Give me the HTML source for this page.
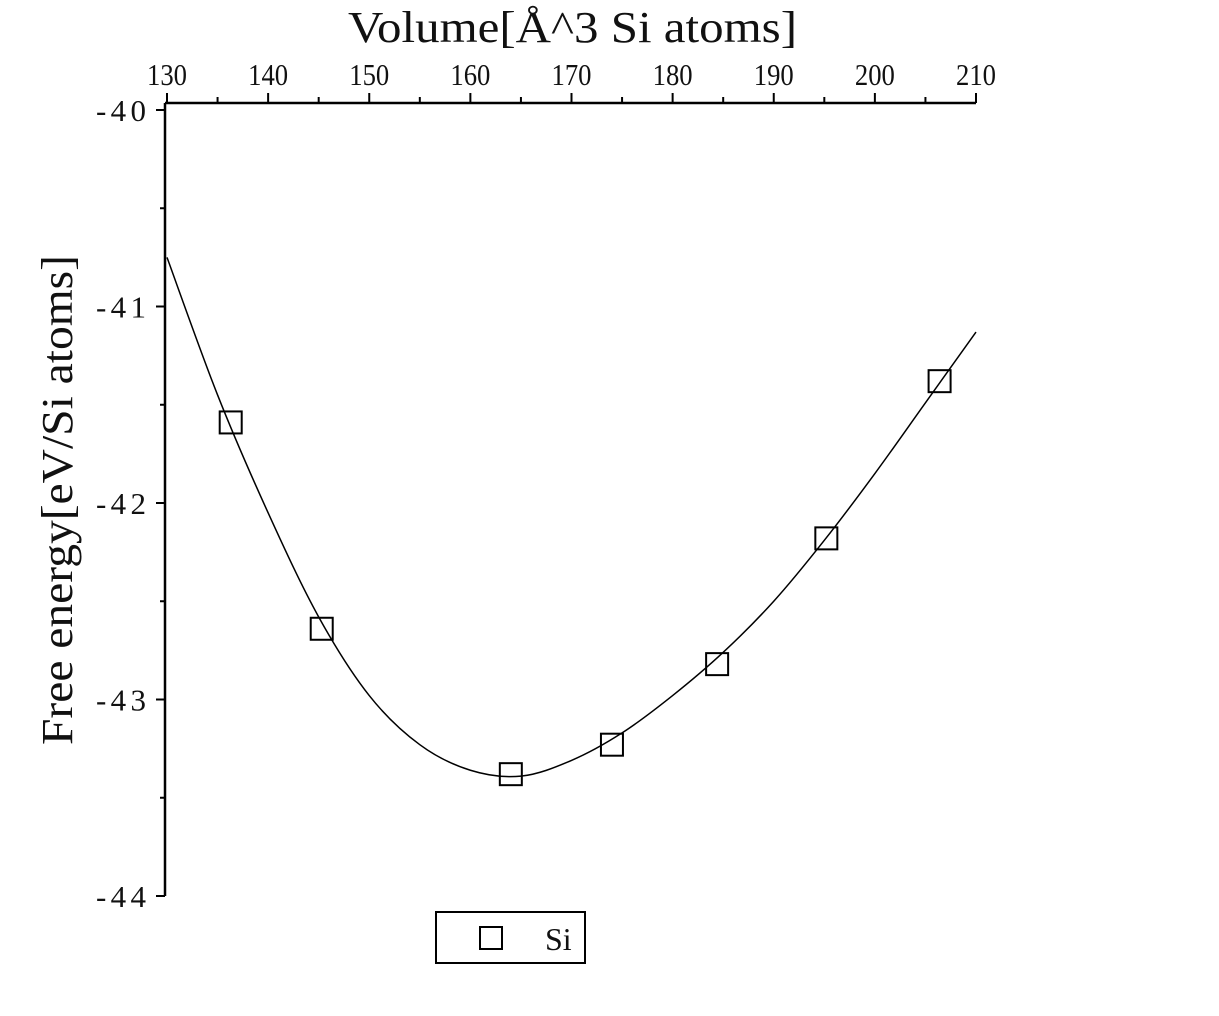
<!DOCTYPE html>
<html><head><meta charset="utf-8"><style>
body{margin:0;background:#fff}
svg text{font-family:"Liberation Serif",serif;fill:#111}
</style></head><body>
<svg id="chart" width="1219" height="1011" xmlns="http://www.w3.org/2000/svg">
<g id="axes"></g><g id="series"></g>
<text x="348" y="42" font-size="44" textLength="449" lengthAdjust="spacingAndGlyphs">Volume[Å^3 Si atoms]</text>
<text transform="translate(72,745) rotate(-90)" font-size="44" textLength="490" lengthAdjust="spacingAndGlyphs">Free energy[eV/Si atoms]</text>
<g>
<rect x="436" y="912" width="149" height="51" fill="none" stroke="#000" stroke-width="2"/>
<rect x="480" y="927" width="22" height="22" fill="none" stroke="#000" stroke-width="2"/>
<text x="545" y="950" font-size="32">Si</text>
</g>
</svg>
<script>
const xTicks=[130,140,150,160,170,180,190,200,210];
const yTicks=[-40,-41,-42,-43,-44];
const pointX=[136.3,145.3,164.0,174.0,184.4,195.2,206.4];
const pointY=[-41.59,-42.64,-43.38,-43.23,-42.82,-42.18,-41.38];
const curveX=[130,135,140,145,150,155,160,165,170,175,180,185,190,195,200,205,210];
const curveY=[-40.75,-41.45,-42.05,-42.58,-42.98,-43.23,-43.36,-43.39,-43.31,-43.17,-42.98,-42.76,-42.50,-42.19,-41.85,-41.49,-41.13];
const X=v=>167+(v-130)*(976-167)/80;
const Y=v=>110+(-40-v)*196.5;
const NS='http://www.w3.org/2000/svg';
const axes=document.getElementById('axes'),ser=document.getElementById('series');
function mk(tag,at,par){const e=document.createElementNS(NS,tag);for(const k in at)e.setAttribute(k,at[k]);par.appendChild(e);return e;}
const xa=mk('path',{d:`M165 103H${X(210)}`,stroke:'#000','stroke-width':2.5,fill:'none'},axes);


const ya=mk('path',{d:`M165 103V${Y(-44)}`,stroke:'#000','stroke-width':2.5,fill:'none'},axes);


for(let v=130;v<=210;v+=5){const maj=v%10===0;mk('line',{x1:X(v),x2:X(v),y1:103,y2:103-(maj?10:6),stroke:'#000','stroke-width':2},axes);}
xTicks.forEach(v=>{const t=mk('text',{x:X(v)-20,y:85,'font-size':31,textLength:40,lengthAdjust:'spacingAndGlyphs'},axes);t.textContent=v;

});
for(let v=-40;v>=-44;v-=0.5){const maj=Math.abs(v%1)<0.01;mk('line',{x1:165,x2:165-(maj?9:5),y1:Y(v),y2:Y(v),stroke:'#000','stroke-width':2},axes);}
yTicks.forEach(v=>{const t=mk('text',{x:96,y:Y(v)+11,'font-size':31,textLength:50,lengthAdjust:'spacing'},axes);t.textContent='-'+Math.abs(v);

});
const P=curveX.map((v,i)=>[X(v),Y(curveY[i])]);
let d=`M${P[0][0]} ${P[0][1]}`;
for(let i=0;i<P.length-1;i++){const p0=P[i-1]||P[i],p1=P[i],p2=P[i+1],p3=P[i+2]||P[i+1];
d+=`C${p1[0]+(p2[0]-p0[0])/6} ${p1[1]+(p2[1]-p0[1])/6} ${p2[0]-(p3[0]-p1[0])/6} ${p2[1]-(p3[1]-p1[1])/6} ${p2[0]} ${p2[1]}`;}
const c=mk('path',{d,stroke:'#000','stroke-width':1.5,fill:'none'},ser);


pointX.forEach((v,i)=>{const r=mk('rect',{x:X(v)-11,y:Y(pointY[i])-11,width:22,height:22,fill:'none',stroke:'#000','stroke-width':2},ser);

});
</script>
</body></html>
